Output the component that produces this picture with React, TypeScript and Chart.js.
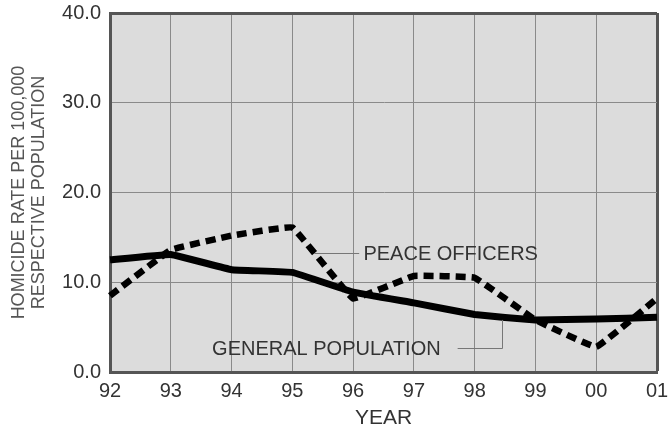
import React, { useEffect, useRef } from "react";
import { Chart, registerables } from "chart.js";

Chart.register(...registerables);

const years = ["92", "93", "94", "95", "96", "97", "98", "99", "00", "01"];
const peaceOfficers = [8.5, 13.6, 15.2, 16.1, 8.2, 10.7, 10.5, 5.8, 2.8, 8.2];
const generalPopulation = [12.5, 13.1, 11.4, 11.1, 8.9, 7.7, 6.4, 5.8, 5.9, 6.1];
const yTitle = ["HOMICIDE RATE PER 100,000", "RESPECTIVE POPULATION"];
const xTitle = "YEAR";

// annotation labels in data space (x = category index, y = value)
const peaceLabel = { text: "PEACE OFFICERS", x: 4.17, y: 13.3, leaderFrom: 3.36, leaderTo: 4.1 };
const generalLabel = { text: "GENERAL POPULATION", x: 1.68, y: 2.7, leaderFrom: 5.72, leaderTo: 6.45, leaderTop: 5.8 };

const FONT = "'Liberation Sans', Arial, Helvetica, sans-serif";

const bgPlugin = {
  id: "plotBg",
  beforeDraw(chart: any) {
    const { ctx, chartArea } = chart;
    ctx.save();
    ctx.fillStyle = "#dcdcdc";
    ctx.fillRect(chartArea.left, chartArea.top, chartArea.right - chartArea.left, chartArea.bottom - chartArea.top);
    ctx.restore();
  },
};

const annotationPlugin = {
  id: "annotations",
  afterDatasetsDraw(chart: any) {
    const { ctx } = chart;
    const xs = chart.scales.x;
    const ys = chart.scales.y;
    ctx.save();
    ctx.strokeStyle = "#777";
    ctx.lineWidth = 1;
    const py = Math.round(ys.getPixelForValue(peaceLabel.y)) + 0.5;
    ctx.beginPath();
    ctx.moveTo(xs.getPixelForValue(peaceLabel.leaderFrom), py);
    ctx.lineTo(xs.getPixelForValue(peaceLabel.leaderTo), py);
    ctx.stroke();
    const gy = Math.round(ys.getPixelForValue(generalLabel.y)) + 0.5;
    const gx2 = Math.round(xs.getPixelForValue(generalLabel.leaderTo)) + 0.5;
    ctx.beginPath();
    ctx.moveTo(xs.getPixelForValue(generalLabel.leaderFrom), gy);
    ctx.lineTo(gx2, gy);
    ctx.lineTo(gx2, ys.getPixelForValue(generalLabel.leaderTop));
    ctx.stroke();

    ctx.fillStyle = "#333";
    ctx.font = `20px ${FONT}`;
    ctx.textAlign = "left";
    ctx.textBaseline = "middle";
    ctx.fillText(peaceLabel.text, xs.getPixelForValue(peaceLabel.x), py + 1);
    ctx.fillText(generalLabel.text, xs.getPixelForValue(generalLabel.x), gy + 1);
    ctx.restore();
  },
};

export default function App() {
  const ref = useRef<HTMLCanvasElement>(null);
  useEffect(() => {
    if (!ref.current) return;
    const chart = new Chart(ref.current, {
      type: "line",
      data: {
        labels: years,
        datasets: [
          {
            label: "Peace Officers",
            data: peaceOfficers,
            borderColor: "#000",
            borderWidth: 6.5,
            borderDash: [10, 6],
            pointRadius: 0,
            tension: 0.06,
            fill: false,
            order: 0,
          },
          {
            label: "General Population",
            data: generalPopulation,
            borderColor: "#000",
            borderWidth: 7,
            pointRadius: 0,
            tension: 0.06,
            borderJoinStyle: "round",
            fill: false,
            order: 1,
          },
        ],
      },
      options: {
        responsive: false,
        animation: false,
        layout: { padding: { top: 13, right: 12, bottom: 0, left: 0 } },
        plugins: { legend: { display: false }, tooltip: { enabled: false } },
        scales: {
          x: {
            offset: false,
            grid: {
              drawTicks: false,
              color: (c: any) => (c.index === years.length - 1 ? "#555" : "#8a8a8a"),
              lineWidth: (c: any) => (c.index === years.length - 1 ? 3 : 1),
            },
            border: { color: "#555", width: 3 },
            ticks: { color: "#333", font: { family: FONT, size: 20 }, padding: 7, maxRotation: 0, autoSkip: false },
            title: {
              display: true,
              text: xTitle,
              color: "#333",
              font: { family: FONT, size: 21, lineHeight: 0.9 },
              padding: { top: 0, bottom: 0 },
            },
            afterFit: (s: any) => {
              s.height = 56;
              s.paddingLeft = 0;
              s.paddingRight = 0;
            },
          },
          y: {
            min: 0,
            max: 40,
            grid: {
              drawTicks: false,
              color: (c: any) => (c.tick && c.tick.value === 40 ? "#555" : "#8a8a8a"),
              lineWidth: (c: any) => (c.tick && c.tick.value === 40 ? 3 : 1),
            },
            border: { color: "#555", width: 3 },
            ticks: {
              stepSize: 10,
              color: "#333",
              font: { family: FONT, size: 20 },
              padding: 9,
              callback: (v: any) => Number(v).toFixed(1),
            },
            title: {
              display: true,
              text: yTitle,
              color: "#555",
              font: { family: FONT, size: 18, lineHeight: 1.11 },
              padding: { top: 9, bottom: 0 },
            },
            afterFit: (s: any) => {
              s.width = 110;
              s.paddingTop = 0;
              s.paddingBottom = 0;
            },
          },
        },
      },
      plugins: [bgPlugin, annotationPlugin],
    } as any);
    return () => chart.destroy();
  }, []);
  return (
    <div style={{ position: "absolute", left: 0, top: 0, width: 669, height: 428, background: "#fff" }}>
      <canvas ref={ref} width={669} height={428} />
    </div>
  );
}
